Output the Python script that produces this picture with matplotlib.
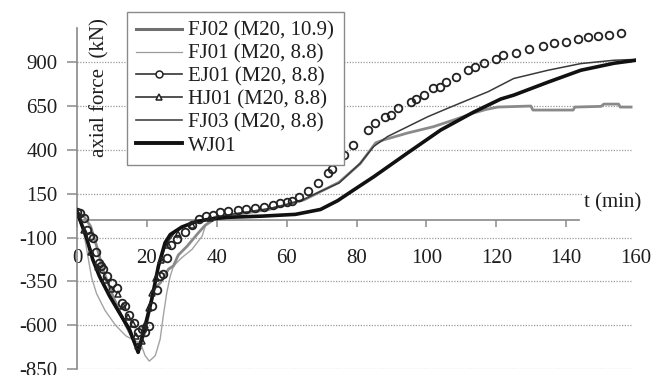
import matplotlib
matplotlib.use("Agg")
import matplotlib.pyplot as plt
from matplotlib.lines import Line2D

plt.rcParams['font.family'] = ['Liberation Serif', 'DejaVu Serif']

# ---------------- data ----------------
wj01_t = [0, 2.6, 4.5, 6.4, 9.3, 12.1, 15, 17.5, 19.5, 21.4, 23.3, 25.2, 26.7, 30, 34, 38,
          43, 53, 62.5, 69.7, 74.6, 79.1, 84.9, 94.6, 104.1, 113.5, 121.3, 125, 134.8, 144.2, 153.7, 160]
wj01_f = [45, -93, -225, -320, -433, -528, -623, -755, -604, -452, -263, -130, -83, -40, -10, 5,
          15, 22, 32, 60, 110, 170, 246, 382, 513, 615, 690, 712, 786, 854, 894, 911]

fj03_t = [0, 3, 6, 9, 12, 15, 17.3, 19.5, 21.5, 23.5, 25.5, 28, 32, 38, 45, 55, 60, 64.8, 69.7,
          75, 81.1, 84.9, 88.9, 94.6, 100.4, 106.1, 111.8, 117.6, 125, 134.8, 144.2, 153.7, 160]
fj03_f = [40, -130, -300, -420, -530, -640, -745, -600, -430, -260, -140, -70, -25, 10, 35, 65, 88,
          116, 163, 211, 324, 419, 476, 532, 589, 637, 684, 731, 807, 854, 892, 911, 916]

fj02_t = [0, 2, 3.9, 5.9, 7.4, 10, 13, 16, 17.5, 19.5, 22, 23.9, 26.2, 27.6, 29, 31.5, 34.8, 36.7,
          39, 45, 55, 65, 70, 75, 81, 85.5, 87.8, 94.6, 102, 107.8, 113.5, 117, 120.4, 129.9,
          130.5, 142, 142.5, 150, 150.8, 155, 155.5, 158.6]
fj02_f = [45, 20, -36, -168, -282, -420, -560, -680, -740, -640, -395, -357, -280, -262, -200, -150,
          -72, -30, 0, 30, 60, 115, 165, 215, 320, 440, 457, 496, 532, 570, 610, 630, 644, 650,
          627, 627, 644, 648, 661, 661, 644, 644]

fj01_t = [0, 2, 4.2, 5.6, 8, 11, 14, 16.6, 18.1, 19.5, 20.7, 22.4, 23.8, 24.7, 25.7, 26.7, 27.6,
          30, 32.9, 35.8, 36.7, 38.5, 40]
fj01_f = [50, -80, -330, -420, -515, -600, -661, -690, -698, -774, -805, -774, -680, -547, -414,
          -320, -263, -215, -168, -93, -36, 10, 25]

ej01_t = [0, 1, 2, 2.8, 3.7, 4.7, 5.5, 6.4, 7, 7.5, 8.5, 10, 11.4, 12.8, 13.8, 15, 16.4, 17.4,
          18.5, 19.6, 20.5, 21.6, 22.8, 23.8, 24.7, 25.7, 27, 28.6, 31, 33, 35, 37, 39, 41, 43.3,
          46, 48.5, 51, 53.5, 56, 58.2, 60, 61.5, 63.4, 66.2, 69.1, 71.7, 73, 76.3, 79.1, 83.2,
          85.4, 88.3, 90, 92, 95.5, 97, 99.2, 102, 104, 105.5, 108.4, 111.8, 114, 116.4, 119.9,
          122, 125.6, 129.3, 133.3, 136.5, 139.9, 143.4, 146.2, 149.1, 152.3, 155.7]
ej01_f = [45, 40, 10, -55, -93, -100, -180, -243, -263, -282, -320, -360, -386, -471, -490, -540,
          -585, -641, -622, -640, -604, -490, -400, -320, -310, -215, -140, -111, -70, -30, 5, 20,
          30, 45, 50, 55, 62, 68, 75, 85, 97, 105, 110, 131, 163, 211, 267, 290, 372, 428, 513,
          553, 588, 600, 638, 672, 690, 712, 750, 760, 786, 815, 854, 870, 894, 917, 940, 951,
          973, 991, 1008, 1014, 1031, 1042, 1048, 1053, 1065]

hj01_t = [0, 2, 4, 6, 8, 9.7, 11.6, 13.1, 14.5, 15.9, 16.9, 17.5, 18.5, 19.5, 20.5, 21.4, 22.5,
          24, 26, 29, 33, 38]
hj01_f = [45, -60, -180, -270, -340, -395, -420, -490, -556, -594, -661, -718, -690, -600, -500,
          -414, -330, -230, -140, -80, -30, 10]

x_ticks = [0, 20, 40, 60, 80, 100, 120, 140, 160]
y_ticks = [-850, -600, -350, -100, 150, 400, 650, 900]

labels = ['FJ02 (M20, 10.9)', 'FJ01 (M20, 8.8)', 'EJ01 (M20, 8.8)',
          'HJ01 (M20, 8.8)', 'FJ03 (M20, 8.8)', 'WJ01']

# ---------------- figure ----------------
W, H = 657, 375
fig = plt.figure(figsize=(W / 100, H / 100), dpi=100)
ax = fig.add_axes([77 / W, 1 - 369 / H, (636 - 77) / W, (369 - 28) / H])
ax.set_xlim(0, 160)
ax.set_ylim(-850, 1095)

txt = '#1e1e1e'
fs = 15

# dotted gridlines
ax.hlines(y_ticks, 0, 158.5, colors='#9a9a9a', linestyles=(0, (1, 1.2)), lw=0.9, zorder=0)

ax.plot(fj01_t, fj01_f, color='#a3a3a3', lw=1.0, zorder=2)
ax.plot(fj02_t, fj02_f, color='#8a8a8a', lw=2.0, zorder=3)
ax.plot(fj03_t, fj03_f, color='#3a3a3a', lw=1.1, zorder=4)
ax.plot(wj01_t, wj01_f, color='#111111', lw=2.6, zorder=5)
ax.plot(hj01_t, hj01_f, ls='none', marker='^', ms=5, mfc='none', mec='#222222', mew=1.1, zorder=6)
ax.plot(ej01_t, ej01_f, ls='none', marker='o', ms=5.5, mfc='none', mec='#222222', mew=1.3, zorder=7)

# axes styling
for s in ['top', 'right']:
    ax.spines[s].set_visible(False)
ax.spines['left'].set_color('#8a8a8a')
ax.spines['left'].set_linewidth(1.2)
ax.spines['bottom'].set_position(('data', 0))
ax.spines['bottom'].set_color('#8a8a8a')
ax.spines['bottom'].set_linewidth(1.2)
ax.spines['bottom'].set_bounds(0, 143.7)

ax.set_xticks(x_ticks)
ax.set_xticklabels([str(v) for v in x_ticks])
ax.set_yticks(y_ticks)
ax.set_yticklabels([str(v) for v in y_ticks])
ax.tick_params(axis='x', direction='out', length=5, width=1.1, color='#8a8a8a',
               pad=16, labelsize=fs, labelcolor=txt)
ax.tick_params(axis='y', direction='out', length=7, width=1.1, color='#8a8a8a',
               pad=7, labelsize=fs, labelcolor=txt)
for tk in ax.xaxis.get_major_ticks():
    if tk.get_loc() > 143.7:
        tk.tick1line.set_visible(False)

ax.text(145, 100, 't (min)', fontsize=fs, color=txt, ha='left', va='center',
        bbox=dict(facecolor='white', edgecolor='none', pad=1.5), zorder=8)

fig.text(100 / W, 1 - 88 / H, 'axial force  (kN)', rotation=90, fontsize=fs,
         color=txt, ha='center', va='center')

handles = [
    Line2D([], [], color='#707070', lw=2.2),
    Line2D([], [], color='#9a9a9a', lw=0.9),
    Line2D([], [], color='#333333', lw=1.2, marker='o', ms=5, mfc='white', mec='#222222', mew=1.1),
    Line2D([], [], color='#333333', lw=1.2, marker='^', ms=5, mfc='white', mec='#222222', mew=1.1),
    Line2D([], [], color='#444444', lw=1.2),
    Line2D([], [], color='#111111', lw=2.8),
]
leg = fig.legend(handles, labels, loc='upper left', bbox_to_anchor=(127 / W, 1 - 12 / H),
                 frameon=True, fancybox=False, edgecolor='#8a8a8a', facecolor='white',
                 framealpha=1, fontsize=fs, handlelength=2.2, handletextpad=0.3,
                 labelspacing=0.16, borderpad=0.45, borderaxespad=0)
leg.get_frame().set_linewidth(1.0)
for t in leg.get_texts():
    t.set_color(txt)
leg.set_zorder(10)

fig.savefig('out.png', dpi=100)
